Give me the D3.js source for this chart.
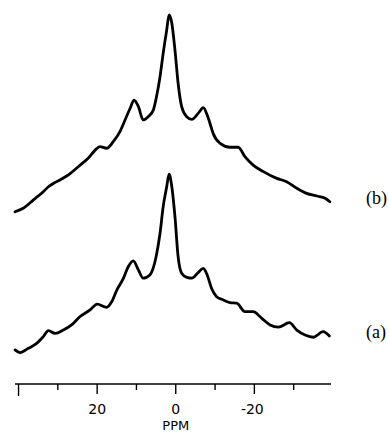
<!DOCTYPE html>
<html>
<head>
<meta charset="utf-8">
<script src="https://cdn.jsdelivr.net/npm/d3@7"></script>
<style>
  body { margin: 0; background: #fff; }
  svg { display: block; }
</style>
</head>
<body>
<svg id="chart" width="389" height="434"></svg>
<script>
// spectrum (b): chemical shift (ppm) and relative intensity
const ppmB = [40.9, 38.8, 36.2, 33.7, 32.4, 30.3, 27.3, 24.8, 22.3, 20.5, 19.3, 17.6, 15.9, 14.2, 12.9, 11.6,
  10.6, 9.5, 8.3, 7.0, 5.7, 4.9, 4.0, 3.2, 2.3, 1.7, 1.0, 0.2, -0.6, -1.5, -2.8, -4.1, -5.7, -7.0, -8.0,
  -9.1, -9.5, -11.3, -13.8, -15.9, -17.6, -19.7, -22.3, -25.7, -28.2, -30.8, -33.3, -35.9, -38.0, -39.2];
const intB = [4.0, 5.7, 9.8, 13.8, 16.2, 18.7, 22.0, 26.0, 30.1, 34.1, 35.8, 35.0, 38.2, 43.1, 48.8, 54.5,
  58.5, 55.3, 48.8, 50.4, 53.7, 60.1, 69.9, 81.3, 92.7, 100, 96.0, 82.9, 66.7, 55.3, 50.4, 49.1, 52.0, 54.8, 51.2,
  44.7, 42.3, 37.4, 35.5, 35.5, 30.9, 26.8, 23.6, 20.3, 18.7, 15.5, 13.0, 11.7, 10.6, 8.9];

// spectrum (a)
const ppmA = [40.9, 39.6, 37.5, 35.4, 33.7, 32.4, 30.7, 28.6, 26.5, 24.4, 21.8, 20.0, 17.6, 16.3, 15.0, 13.3,
  12.1, 10.8, 9.5, 8.3, 6.6, 5.0, 4.0, 3.2, 2.3, 1.7, 1.0, 0.2, -0.6, -1.5, -2.8, -4.1, -5.7, -7.0, -8.0,
  -9.1, -10.4, -12.1, -13.8, -15.5, -17.6, -19.7, -21.9, -24.0, -26.1, -28.9, -30.8, -32.9, -35.0, -37.5, -39.1];
const intA = [4.9, 3.6, 5.7, 8.1, 11.4, 14.3, 13.0, 14.6, 17.1, 21.1, 24.4, 27.3, 25.7, 28.4, 34.1, 39.9,
  45.5, 48.4, 43.9, 39.9, 41.5, 50.4, 61.8, 74.8, 84.5, 90.7, 84.5, 69.9, 50.4, 42.3, 40.3, 39.9, 42.6, 44.7, 41.5,
  35.0, 30.9, 29.3, 28.0, 27.7, 23.6, 23.6, 20.3, 17.1, 16.0, 18.2, 14.6, 12.2, 11.1, 13.8, 11.7];

const traceLabels = ['(b)', '(a)'];
const majorTicks = [40, 20, 0, -20];
const minorTicks = [30, 10, -10, -30];
const tickLabels = ['', '20', '0', '-20'];

const svg = d3.select('#chart');

const x = d3.scaleLinear().domain([40.9, -39.5]).range([15, 331]);
// intensity -> height in px, each trace gets its own baseline
const h = d3.scaleLinear().domain([0, 100]).range([0, 205]);
const baselines = [220, 360];

const traces = [
  d3.zip(ppmB, intB),
  d3.zip(ppmA, intA)
];

traces.forEach((pts, i) => {
  const line = d3.line()
    .x(d => x(d[0]))
    .y(d => baselines[i] - h(d[1]))
    .curve(d3.curveMonotoneX);

  svg.append('path')
    .datum(pts)
    .attr('d', line)
    .attr('fill', 'none')
    .attr('stroke', '#000')
    .attr('stroke-width', 2.8)
    .attr('stroke-linejoin', 'round')
    .attr('stroke-linecap', 'round');

  const last = pts[pts.length - 1];
  svg.append('text')
    .attr('x', 366)
    .attr('y', baselines[i] - h(last[1]) + 2)
    .style('font-family', '"Liberation Serif", "Times New Roman", serif')
    .style('font-size', '18px')
    .text(traceLabels[i]);
});

// ppm axis
const axisY = 384;
const ax = svg.append('g').attr('stroke', '#000');
ax.append('line')
  .attr('x1', 15).attr('x2', 331)
  .attr('y1', axisY).attr('y2', axisY)
  .attr('stroke-width', 1.6);

ax.selectAll('line.major')
  .data(majorTicks).enter().append('line')
  .attr('class', 'major')
  .attr('x1', d => x(d)).attr('x2', d => x(d))
  .attr('y1', axisY).attr('y2', (d, i) => i === 0 ? axisY + 12 : axisY + 10)
  .attr('stroke-width', 1.4);

ax.selectAll('line.minor')
  .data(minorTicks).enter().append('line')
  .attr('class', 'minor')
  .attr('x1', d => x(d)).attr('x2', d => x(d))
  .attr('y1', axisY).attr('y2', axisY + 6)
  .attr('stroke-width', 1.4);

svg.selectAll('text.tick')
  .data(majorTicks).enter().append('text')
  .attr('class', 'tick')
  .attr('x', d => x(d) - (d < 0 ? 2 : 0))
  .attr('y', 414)
  .attr('text-anchor', 'middle')
  .style('font-family', '"DejaVu Sans", sans-serif')
  .style('font-size', '14px')
  .text((d, i) => tickLabels[i]);

svg.append('text')
  .attr('x', x(0))
  .attr('y', 430)
  .attr('text-anchor', 'middle')
  .style('font-family', '"DejaVu Sans", sans-serif')
  .style('font-size', '13px')
  .text('PPM');
</script>
</body>
</html>
